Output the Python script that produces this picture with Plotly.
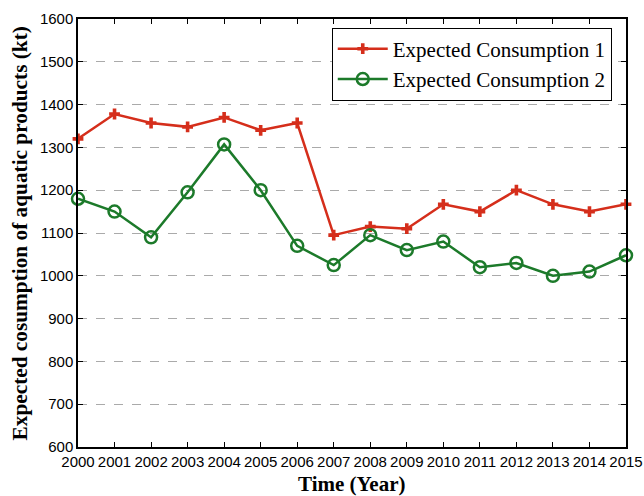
import plotly.graph_objects as go

years = list(range(2000, 2016))
consumption_1 = [1320, 1378, 1357, 1348, 1370, 1340, 1357, 1095, 1115, 1110, 1167, 1150, 1200, 1167, 1150, 1167]
consumption_2 = [1180, 1150, 1090, 1195, 1307, 1200, 1070, 1025, 1095, 1060, 1080, 1020, 1030, 1000, 1010, 1048]
y_ticks = list(range(600, 1700, 100))

serif = "Liberation Serif, Times New Roman"
sans = "Liberation Sans, Arial"

fig = go.Figure()
fig.add_trace(go.Scatter(
    x=years, y=consumption_1, name="Expected Consumption 1",
    mode="lines+markers", cliponaxis=False,
    line=dict(color="#d52e1b", width=2.5),
    marker=dict(symbol="cross", size=9, color="#d52e1b"),
))
fig.add_trace(go.Scatter(
    x=years, y=consumption_2, name="Expected Consumption 2",
    mode="lines+markers", cliponaxis=False,
    line=dict(color="#1c7a2a", width=2.5),
    marker=dict(symbol="circle-open", size=12, color="#1c7a2a", line=dict(width=2.5)),
))

axis_common = dict(
    showline=True, linecolor="black", linewidth=1.5, mirror="ticks",
    ticks="inside", ticklen=5, tickcolor="black",
    tickfont=dict(family=sans, size=15, color="black"),
    zeroline=False, automargin=False,
)

fig.update_xaxes(
    range=[2000, 2015], tickmode="array", tickvals=years,
    ticktext=[str(y) for y in years], showgrid=False,
    **axis_common,
)
fig.update_yaxes(
    range=[600, 1600], tickmode="array", tickvals=y_ticks,
    showgrid=True, gridcolor="#aaaaaa", griddash="dash", gridwidth=1,
    **axis_common,
)

# axis titles placed as annotations for exact positioning
fig.add_annotation(
    text="<b>Time (Year)</b>", xref="paper", yref="paper", x=0.5, y=-0.086,
    xanchor="center", yanchor="middle", showarrow=False,
    font=dict(family=serif, size=21, color="black"),
)
fig.add_annotation(
    text="<b>Expected cosumption of aquatic products (kt)</b>", xref="paper", yref="paper",
    x=-0.105, y=0.5, xanchor="center", yanchor="middle", textangle=-90, showarrow=False,
    font=dict(family=serif, size=21.3, color="black"),
)

fig.update_layout(
    width=644, height=496,
    margin=dict(l=78, r=18, t=19, b=49),
    paper_bgcolor="white", plot_bgcolor="white",
    legend=dict(
        x=0.974, y=0.98, xanchor="right", yanchor="top",
        bgcolor="white", bordercolor="black", borderwidth=1,
        font=dict(family=serif, size=21, color="black"),
        tracegroupgap=0, itemwidth=50,
    ),
    showlegend=True,
)

fig.write_html("out.html")
